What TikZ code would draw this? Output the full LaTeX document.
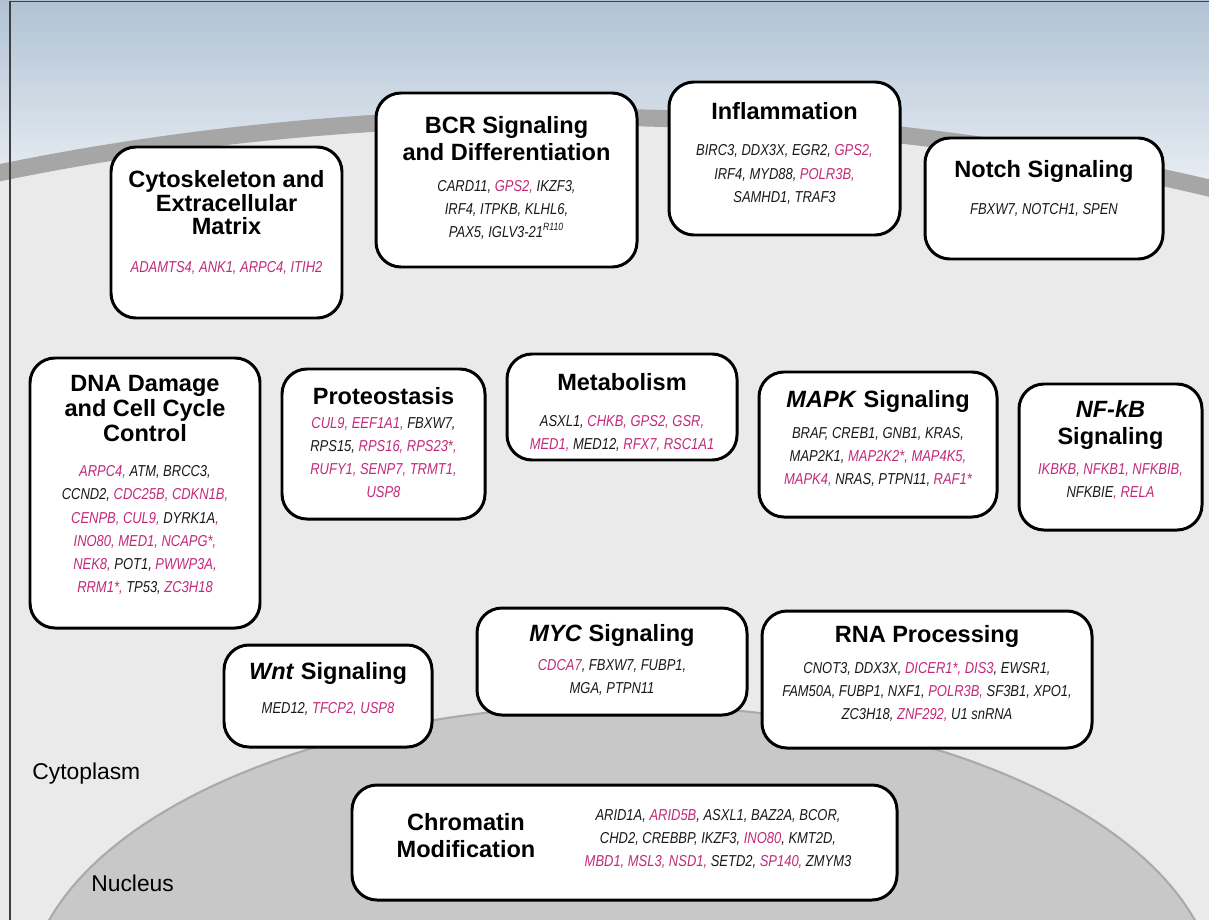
\documentclass[tikz,border=0pt]{standalone}
\usepackage{fontspec}
\setmainfont{Liberation Sans}
\newfontfamily\genefont[FakeStretch=0.82]{Liberation Sans}
\usetikzlibrary{positioning,shapes.geometric}
\definecolor{genepink}{RGB}{194,42,122}
\definecolor{skytop}{RGB}{176,194,212}
\definecolor{cytogray}{RGB}{234,234,234}
\definecolor{membranegray}{RGB}{166,166,166}
\definecolor{nucgray}{RGB}{200,200,200}
\definecolor{nucedge}{RGB}{170,170,170}
\newcommand{\pg}[1]{\textcolor{genepink}{#1}}
\tikzset
{
    pathbox/.style  = {rectangle, rounded corners=0.5cm, draw=black, line width=1.7pt, fill=white, inner sep=0pt},
    box size/.style 2 args = {minimum width=#1*0.02cm, minimum height=#2*0.02cm},
    boxtitle/.style = {align=center, font=\fontsize{13.4}{14.2}\selectfont\bfseries, inner sep=0pt},
    genelist/.style = {align=center, font=\fontsize{9}{13.1}\selectfont\genefont\itshape, text=black!90, inner sep=0pt},
    celllabel/.style = {anchor=west, font=\fontsize{13}{15}\selectfont, inner sep=0pt}
}

\begin{document}
\begin{tikzpicture}[x=0.02cm, y=-0.02cm]
\useasboundingbox (0,0) rectangle (1209,919);
\clip (0,0) rectangle (1209,919);

% background: sky, cytoplasm, membrane, nucleus
\shade[top color=skytop, bottom color=white] (0,0) rectangle (1209,260);
\fill[cytogray] (570,667) ellipse [x radius=26cm, y radius=11cm];
\draw[membranegray, line width=0.34cm] (570,667) ellipse [x radius=26cm, y radius=11cm];
\filldraw[fill=nucgray, draw=nucedge, line width=1.2pt] (622,1000) ellipse [x radius=11.9cm, y radius=5.9cm];
\draw[black!75, line width=0.8pt] (10,940) -- (10,1.5) -- (1230,1.5);

\node[celllabel] (cytoplasm) at (32,774) {Cytoplasm};
\node[celllabel] (nucleus) at (91,883) {Nucleus};

% top row
\node[pathbox, box size={231}{171}] (cyto) at (226.5,232.5) {};
\node[boxtitle, font=\fontsize{13.4}{13.4}\selectfont\bfseries] (cyto title) at (226.5,203) {Cytoskeleton and\\Extracellular\\Matrix};
\node[genelist] (cyto genes) at (226.5,268) {\pg{ADAMTS4, ANK1, ARPC4, ITIH2}};

\node[pathbox, box size={261}{174}] (bcr) at (506.5,180) {};
\node[boxtitle, font=\fontsize{13.4}{15.4}\selectfont\bfseries] (bcr title) at (506.5,138.5) {BCR Signaling\\and Differentiation};
\node[genelist] (bcr genes) at (506.5,210) {CARD11, \pg{GPS2,} IKZF3,\\IRF4, ITPKB, KLHL6,\\PAX5, IGLV3-21\textsuperscript{R110}};

\node[pathbox, box size={231}{153}] (infl) at (784.5,158.5) {};
\node[boxtitle] (infl title) at (784.5,111) {Inflammation};
\node[genelist] (infl genes) at (784.5,174.5) {BIRC3, DDX3X, EGR2, \pg{GPS2,}\\IRF4, MYD88, \pg{POLR3B,}\\SAMHD1, TRAF3};

\node[pathbox, box size={238}{121}] (notch) at (1044,198.5) {};
\node[boxtitle] (notch title) at (1044,171) {Notch Signaling};
\node[genelist] (notch genes) at (1044,210) {FBXW7, NOTCH1, SPEN};

% middle row
\node[pathbox, box size={230}{270}] (dna) at (145,493) {};
\node[boxtitle] (dna title) at (145,408.5) {DNA Damage\\and Cell Cycle\\Control};
\node[genelist] (dna genes) at (145,530) {\pg{ARPC4,} ATM, BRCC3,\\CCND2, \pg{CDC25B, CDKN1B,}\\\pg{CENPB, CUL9,} DYRK1A\pg{,}\\\pg{INO80, MED1, NCAPG*,}\\\pg{NEK8,} POT1, \pg{PWWP3A,}\\\pg{RRM1*,} TP53, \pg{ZC3H18}};

\node[pathbox, box size={203}{150}] (prot) at (383.5,444) {};
\node[boxtitle] (prot title) at (383.5,396) {Proteostasis};
\node[genelist] (prot genes) at (383.5,458) {\pg{CUL9, EEF1A1,} FBXW7,\\RPS15, \pg{RPS16, RPS23*,}\\\pg{RUFY1, SENP7, TRMT1,}\\\pg{USP8}};

\node[pathbox, box size={230}{106}] (metab) at (622,407) {};
\node[boxtitle] (metab title) at (622,382) {Metabolism};
\node[genelist] (metab genes) at (622,433.5) {ASXL1, \pg{CHKB, GPS2, GSR,}\\\pg{MED1,} MED12, \pg{RFX7, RSC1A1}};

\node[pathbox, box size={238}{145}] (mapk) at (878,444.5) {};
\node[boxtitle] (mapk title) at (878,401) {\textit{MAPK} Signaling};
\node[genelist] (mapk genes) at (878,457) {BRAF, CREB1, GNB1, KRAS,\\MAP2K1, \pg{MAP2K2*, MAP4K5,}\\\pg{MAPK4,} NRAS, PTPN11, \pg{RAF1*}};

\node[pathbox, box size={183}{146}] (nfkb) at (1110.5,457) {};
\node[boxtitle, font=\fontsize{13.4}{15.4}\selectfont\bfseries] (nfkb title) at (1110.5,424.5) {\textit{NF-kB}\\Signaling};
\node[genelist] (nfkb genes) at (1110.5,481.5) {\pg{IKBKB, NFKB1, NFKBIB,}\\NFKBIE\pg{, RELA}};

% bottom row
\node[pathbox, box size={208}{102}] (wnt) at (328,696) {};
\node[boxtitle] (wnt title) at (328,673) {\textit{Wnt} Signaling};
\node[genelist] (wnt genes) at (328,709) {MED12, \pg{TFCP2, USP8}};

\node[pathbox, box size={270}{107}] (myc) at (612,661.5) {};
\node[boxtitle] (myc title) at (612,635) {\textit{MYC} Signaling};
\node[genelist] (myc genes) at (612,677) {\pg{CDCA7}, FBXW7, FUBP1,\\MGA, PTPN11};

\node[pathbox, box size={330}{137}] (rna) at (927,679.5) {};
\node[boxtitle] (rna title) at (927,636) {RNA Processing};
\node[genelist] (rna genes) at (927,692) {CNOT3, DDX3X, \pg{DICER1*, DIS3}, EWSR1,\\FAM50A, FUBP1, NXF1, \pg{POLR3B,} SF3B1, XPO1,\\ZC3H18, \pg{ZNF292,} U1 snRNA};

% nucleus
\node[pathbox, box size={545}{115}] (chrom) at (624.5,842.5) {};
\node[boxtitle, font=\fontsize{13.4}{15.4}\selectfont\bfseries] (chrom title) at (466,835.5) {Chromatin\\Modification};
\node[genelist] (chrom genes) at (718,838.5) {ARID1A, \pg{ARID5B}, ASXL1, BAZ2A, BCOR,\\CHD2, CREBBP, IKZF3, \pg{INO80}, KMT2D,\\\pg{MBD1, MSL3, NSD1,} SETD2, \pg{SP140,} ZMYM3};
\end{tikzpicture}
\end{document}
